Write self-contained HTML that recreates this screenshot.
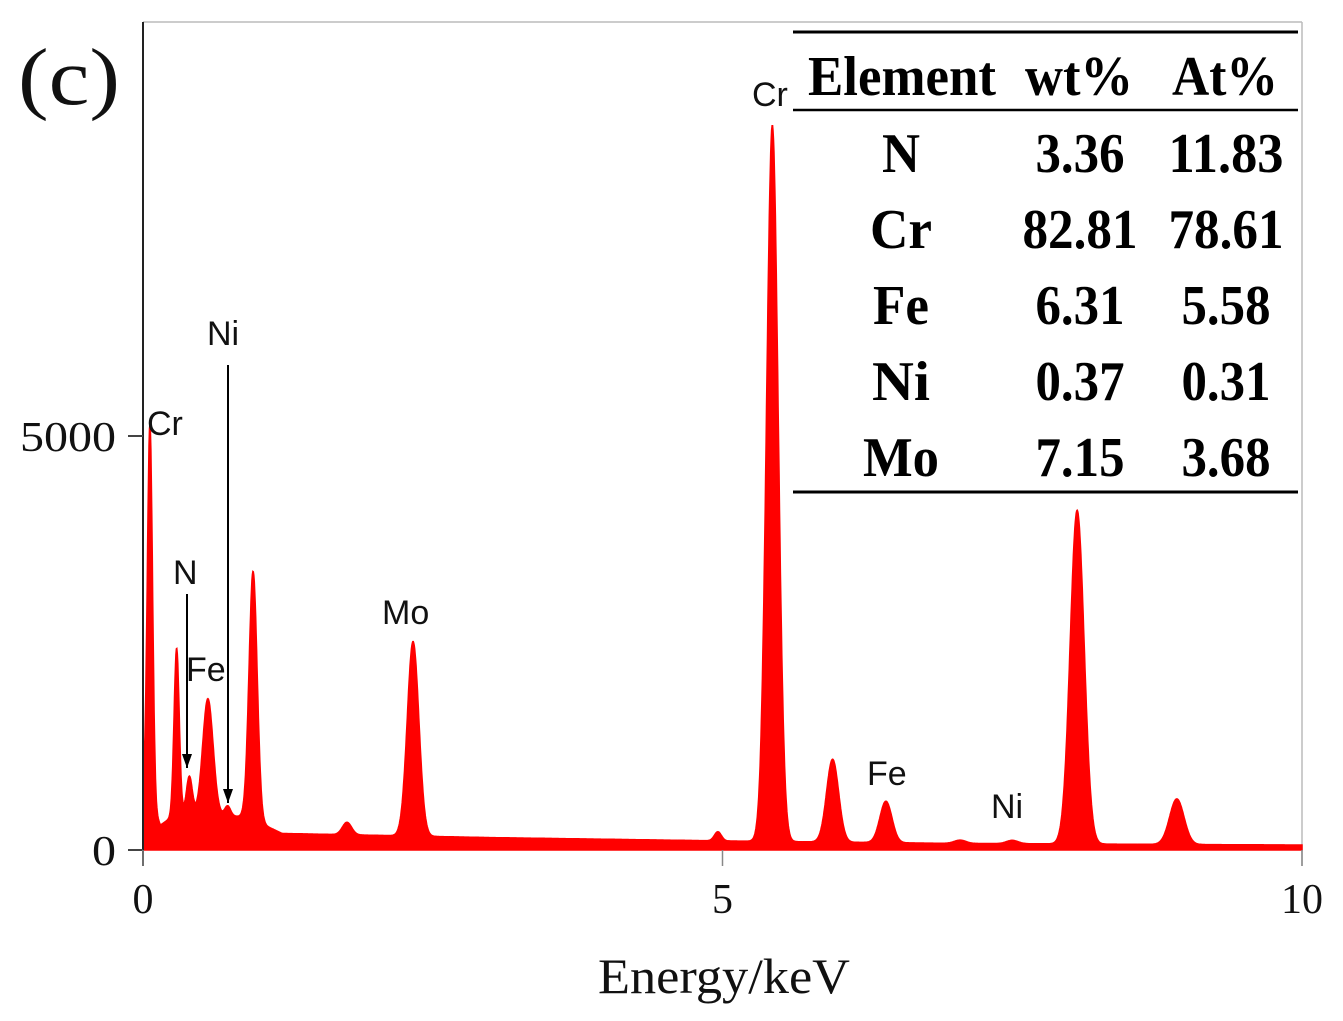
<!DOCTYPE html>
<html><head><meta charset="utf-8"><style>
html,body{margin:0;padding:0;background:#fff;}
svg{display:block;}
.ann{font-family:"Liberation Sans",sans-serif;font-size:34px;fill:#111;}
.tk{font-family:"Liberation Serif",serif;font-size:42px;fill:#111;}
.tb{font-family:"Liberation Serif",serif;font-size:56px;font-weight:bold;fill:#000;}
</style></head><body>
<svg id="chart" width="1343" height="1021" viewBox="0 0 1343 1021">
</svg>
<script>
// peak list: energy (keV), height (counts), width (keV)
const peakEnergy = [0.06, 0.29, 0.40, 0.56, 0.73, 0.95, 1.76, 2.33, 4.96, 5.43, 5.95, 6.41, 7.05, 7.50, 8.06, 8.92];
const peakHeight = [4550, 2000, 450, 1400, 120, 3000, 150, 2350, 110, 8650, 1000, 500, 40, 40, 4030, 550];
const peakWidth  = [0.022, 0.022, 0.025, 0.045, 0.025, 0.035, 0.04, 0.05, 0.03, 0.05, 0.052, 0.052, 0.05, 0.05, 0.06, 0.062];
// background counts at energies
const bgEnergy = [0, 0.15, 0.3, 0.9, 1.2, 3, 5, 7, 10];
const bgCounts = [800, 300, 450, 400, 200, 150, 110, 80, 60];
const xTicks = [0, 5, 10];
const yTicks = [0, 5000];
const tableHeader = ["Element", "wt%", "At%"];
const tableElements = ["N", "Cr", "Fe", "Ni", "Mo"];
const tableWt = ["3.36", "82.81", "6.31", "0.37", "7.15"];
const tableAt = ["11.83", "78.61", "5.58", "0.31", "3.68"];

const NS = "http://www.w3.org/2000/svg";
const svg = document.getElementById('chart');
const X0 = 143, X1 = 1302, Y0 = 850;
const xs = e => X0 + (X1 - X0) * e / 10;
const ys = c => Y0 - c * 414 / 5000;
function mk(tag, attrs, parent) {
  const el = document.createElementNS(NS, tag);
  for (const k in attrs) el.setAttribute(k, attrs[k]);
  (parent || svg).appendChild(el);
  return el;
}
function bg(e) {
  for (let i = 0; i < bgEnergy.length - 1; i++) {
    if (e <= bgEnergy[i + 1]) {
      const t = (e - bgEnergy[i]) / (bgEnergy[i + 1] - bgEnergy[i]);
      return bgCounts[i] + t * (bgCounts[i + 1] - bgCounts[i]);
    }
  }
  return bgCounts[bgCounts.length - 1];
}
let f = mk('line', {x1: X0, y1: 22, x2: X1, y2: 22, stroke: '#ccc', 'stroke-width': 2});
 
f = mk('line', {x1: X1, y1: 22, x2: X1, y2: 866, stroke: '#bbb', 'stroke-width': 1.5});
 

let d = `M${xs(0)},${Y0}`;
for (let e = 0; e <= 10; e += 0.004) {
  let c = bg(e);
  for (let i = 0; i < peakEnergy.length; i++) {
    const z = (e - peakEnergy[i]) / peakWidth[i];
    c += peakHeight[i] * Math.exp(-0.5 * z * z);
  }
  d += `L${xs(e).toFixed(1)},${ys(c).toFixed(1)}`;
}
d += `L${xs(10)},${Y0}Z`;
const sp = mk('path', {d: d, fill: '#ff0000', stroke: '#ff0000', 'stroke-width': 1.5});
 

let a = mk('line', {x1: X0, y1: 22, x2: X0, y2: 866, stroke: '#222', 'stroke-width': 2});
 
yTicks.forEach(v => {
  const t = mk('line', {x1: 128, y1: ys(v), x2: X0, y2: ys(v), stroke: '#444', 'stroke-width': 2});
   
  const s = String(v);
  const l = mk('text', {x: 116, y: ys(v) + 15, 'text-anchor': 'end', class: 'tk', textLength: s.length * 24, lengthAdjust: 'spacingAndGlyphs'});
  l.textContent = s;  
});
xTicks.forEach(v => {
  const t = mk('line', {x1: xs(v), y1: Y0, x2: xs(v), y2: 866, stroke: '#888', 'stroke-width': 1.5});
   
  const l = mk('text', {x: xs(v), y: 913, 'text-anchor': 'middle', class: 'tk'});
  l.textContent = v;  
});
let t = mk('text', {x: 598, y: 993, class: 'tk', style: 'font-size:50px', textLength: 252, lengthAdjust: 'spacingAndGlyphs'});
t.textContent = 'Energy/keV';  
t = mk('text', {x: 18, y: 104, class: 'tk', style: 'font-size:80px', textLength: 102, lengthAdjust: 'spacingAndGlyphs'});
t.textContent = '(c)';  

const anns = [["Cr",147,435],["Ni",207,345],["N",173,584],["Fe",186,681],["Mo",382,624],["Cr",752,106],["Fe",867,785],["Ni",991,818]];
anns.forEach(p => {
  const e = mk('text', {x: p[1], y: p[2], class: 'ann'});
  e.textContent = p[0];
   
});
[[187,594,768],[228,365,803]].forEach(p => {
  const l = mk('line', {x1: p[0], y1: p[1], x2: p[0], y2: p[2], stroke: '#000', 'stroke-width': 2});
   
  const h = mk('path', {d: `M${p[0]-5},${p[2]-14} L${p[0]+5},${p[2]-14} L${p[0]},${p[2]} Z`, fill: '#000'});
   
});

const tg = mk('g', {});
 
const bgRect = mk('rect', {x: 793, y: 30, width: 507, height: 464, fill: '#fff'}, tg);
 
[[32,3],[110,2.5],[492,3]].forEach(r => {
  const l = mk('line', {x1: 793, y1: r[0], x2: 1298, y2: r[0], stroke: '#000', 'stroke-width': r[1]}, tg);
   
});
const hx = [[808,188],[1025,108],[1172,106]];
tableHeader.forEach((h, i) => {
  const e = mk('text', {x: hx[i][0], y: 95, class: 'tb', textLength: hx[i][1], lengthAdjust: 'spacingAndGlyphs'}, tg);
  e.textContent = h;  
});
const colC = [901, 1080, 1226];
function w(s) { let n = 0; for (const ch of s) n += (ch === '.') ? 11 : 26; return n; }
const elW = {N: 38, Cr: 62, Fe: 56, Ni: 58, Mo: 76};
tableElements.forEach((el, r) => {
  const y = 172 + r * 76;
  [el, tableWt[r], tableAt[r]].forEach((v, c) => {
    const len = c === 0 ? elW[v] : w(v);
    const e = mk('text', {x: colC[c] - len / 2, y: y, class: 'tb', textLength: len, lengthAdjust: 'spacingAndGlyphs'}, tg);
    e.textContent = v;
    
    
  });
});
</script>
</body></html>
